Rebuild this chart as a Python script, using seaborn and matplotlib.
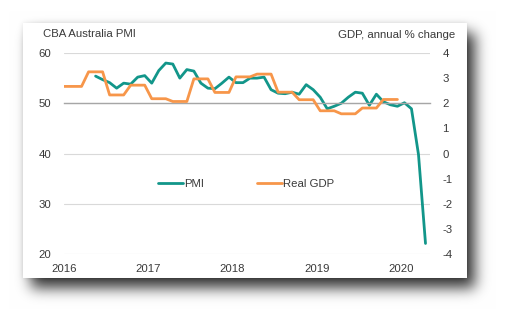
import numpy as np
import pandas as pd
import matplotlib
matplotlib.use("Agg")
import matplotlib.pyplot as plt
import seaborn as sns
from matplotlib.lines import Line2D

# ---------------- data ----------------
pmi_start = "2016-05"
pmi_values = [55.4, 54.7, 54.1, 53.0, 54.0, 53.8, 55.2, 55.5,                      # May-Dec 2016
              54.0, 56.5, 58.0, 57.8, 55.0, 56.7, 56.4, 54.0, 53.0, 52.9, 54.0, 55.2,  # 2017
              54.1, 54.1, 55.0, 55.0, 55.2, 52.7, 52.0, 51.9, 52.2, 51.8, 53.7, 52.7,  # 2018
              51.2, 48.9, 49.4, 50.0, 51.2, 52.2, 52.0, 49.6, 51.8, 50.3, 49.7, 49.4,  # 2019
              50.1, 48.9, 39.8, 22.1]                                                # 2020
gdp_quarters = ["2015Q4", "2016Q1", "2016Q2", "2016Q3", "2016Q4",
                "2017Q1", "2017Q2", "2017Q3", "2017Q4",
                "2018Q1", "2018Q2", "2018Q3", "2018Q4",
                "2019Q1", "2019Q2", "2019Q3", "2019Q4"]
gdp_values = [2.67, 2.67, 3.25, 2.33, 2.72,
              2.18, 2.07, 2.97, 2.43,
              3.05, 3.16, 2.44, 2.14,
              1.70, 1.58, 1.81, 2.15]
year_ticks = [2016, 2017, 2018, 2019, 2020]
pmi_ticks = [20, 30, 40, 50, 60]
gdp_ticks = [-4, -3, -2, -1, 0, 1, 2, 3, 4]
series_names = ["PMI", "Real GDP"]
left_title = "CBA Australia PMI"
right_title = "GDP, annual % change"


def to_decimal(period):
    return period.year + (period.month - 1 + 0.5) / 12.0


pmi_months = pd.period_range(pmi_start, periods=len(pmi_values), freq="M")
pmi_df = pd.DataFrame({"x": [to_decimal(p) for p in pmi_months], "y": pmi_values})

gdp_rows = []
for q, v in zip(gdp_quarters, gdp_values):
    first = pd.Period(q, freq="Q").asfreq("M", how="start")
    for k in range(3):
        gdp_rows.append({"x": to_decimal(first + k), "y": v})
gdp_df = pd.DataFrame(gdp_rows)

# ---------------- style ----------------
sns.set_style("white")
plt.rcParams["font.family"] = ["Liberation Sans", "DejaVu Sans"]
TXT = "#3A3A3A"
TEAL = "#12968A"
ORANGE = "#F7964A"

W, H = 510, 322
fig = plt.figure(figsize=(W / 100, H / 100), dpi=100)
fig.patch.set_facecolor("white")

# background card with soft drop shadow
bg = fig.add_axes([0, 0, 1, 1])
bg.set_axis_off()
cx0, cy0, cx1, cy1 = 23, 23, 467, 278


def blur(a, s):
    r = int(3 * s)
    k = np.exp(-0.5 * (np.arange(-r, r + 1) / s) ** 2)
    k /= k.sum()
    a = np.apply_along_axis(lambda v: np.convolve(v, k, mode="same"), 0, a)
    a = np.apply_along_axis(lambda v: np.convolve(v, k, mode="same"), 1, a)
    return a


m1 = np.zeros((H, W))
m1[cy0 + 10:cy1 + 10, cx0 + 8:cx1 + 8] = 1
m2 = np.zeros((H, W))
m2[cy0:cy1, cx0:cx1] = 1
shade = 0.78 * blur(m1, 7.0) + 0.10 * blur(m2, 2.5)
img = 1 - np.clip(shade, 0, 1)
img[cy0:cy1, cx0:cx1] = 1.0
bg.imshow(np.dstack([img] * 3), extent=[0, 1, 0, 1], aspect="auto", interpolation="bilinear")
bg.set_xlim(0, 1)
bg.set_ylim(0, 1)

# main axes
left, right = 64 / W, 430 / W
bottom, top = (H - 254) / H, (H - 53) / H
ax = fig.add_axes([left, bottom, right - left, top - bottom])
ax.set_facecolor("none")
ax2 = ax.twinx()

sns.lineplot(data=pmi_df, x="x", y="y", ax=ax, color=TEAL, linewidth=2.0, legend=False)
sns.lineplot(data=gdp_df, x="x", y="y", ax=ax2, color=ORANGE, linewidth=2.0, legend=False)

ax.set_xlim(2016, 2020.345)
ax.set_ylim(20, 60)
ax2.set_ylim(-4, 4)

for a in (ax, ax2):
    for s in a.spines.values():
        s.set_visible(False)
    a.set_xlabel("")
    a.set_ylabel("")

# gridlines, with the 50-line acting as the x axis
ax.set_yticks(pmi_ticks)
ax.yaxis.grid(True, color="#D9D9D9", linewidth=0.8)
ax.set_axisbelow(True)
ax.spines["bottom"].set_visible(True)
ax.spines["bottom"].set_position(("data", 50))
ax.spines["bottom"].set_color("#A6A6A6")
ax.spines["bottom"].set_linewidth(1.0)
ax.set_xticks(year_ticks)
ax.tick_params(axis="x", direction="out", length=4, width=0.8, color="#A6A6A6",
               labelbottom=False)
ax.tick_params(axis="y", length=0, labelsize=8.2, labelcolor=TXT, pad=9)
ax.set_yticklabels([str(t) for t in pmi_ticks])

sec = ax.secondary_xaxis("bottom")
sec.set_xticks(year_ticks)
sec.set_xticklabels([str(t) for t in year_ticks])
sec.tick_params(length=0, labelsize=8.2, labelcolor=TXT, pad=7.5)
for s in sec.spines.values():
    s.set_visible(False)

ax2.set_yticks(gdp_ticks)
ax2.set_yticklabels([str(t) for t in gdp_ticks])
ax2.tick_params(axis="y", length=0, labelsize=8.2, labelcolor=TXT, pad=9)
ax2.grid(False)

# titles
fig.text(43 / W, 1 - 34 / H, left_title, ha="left", va="center", fontsize=8.2, color=TXT)
fig.text(455 / W, 1 - 35 / H, right_title, ha="right", va="center", fontsize=8.2, color=TXT)

# legend
handles = [Line2D([], [], color=TEAL, linewidth=2.0),
           Line2D([], [], color=ORANGE, linewidth=2.0)]
leg = ax.legend(handles, series_names, loc="center", bbox_to_anchor=(0.497, 0.35),
                ncol=2, frameon=False, fontsize=8.2, handlelength=2.2,
                handletextpad=0.1, columnspacing=4.6, labelcolor=TXT)

fig.savefig("out.png", dpi=100, facecolor="white")
